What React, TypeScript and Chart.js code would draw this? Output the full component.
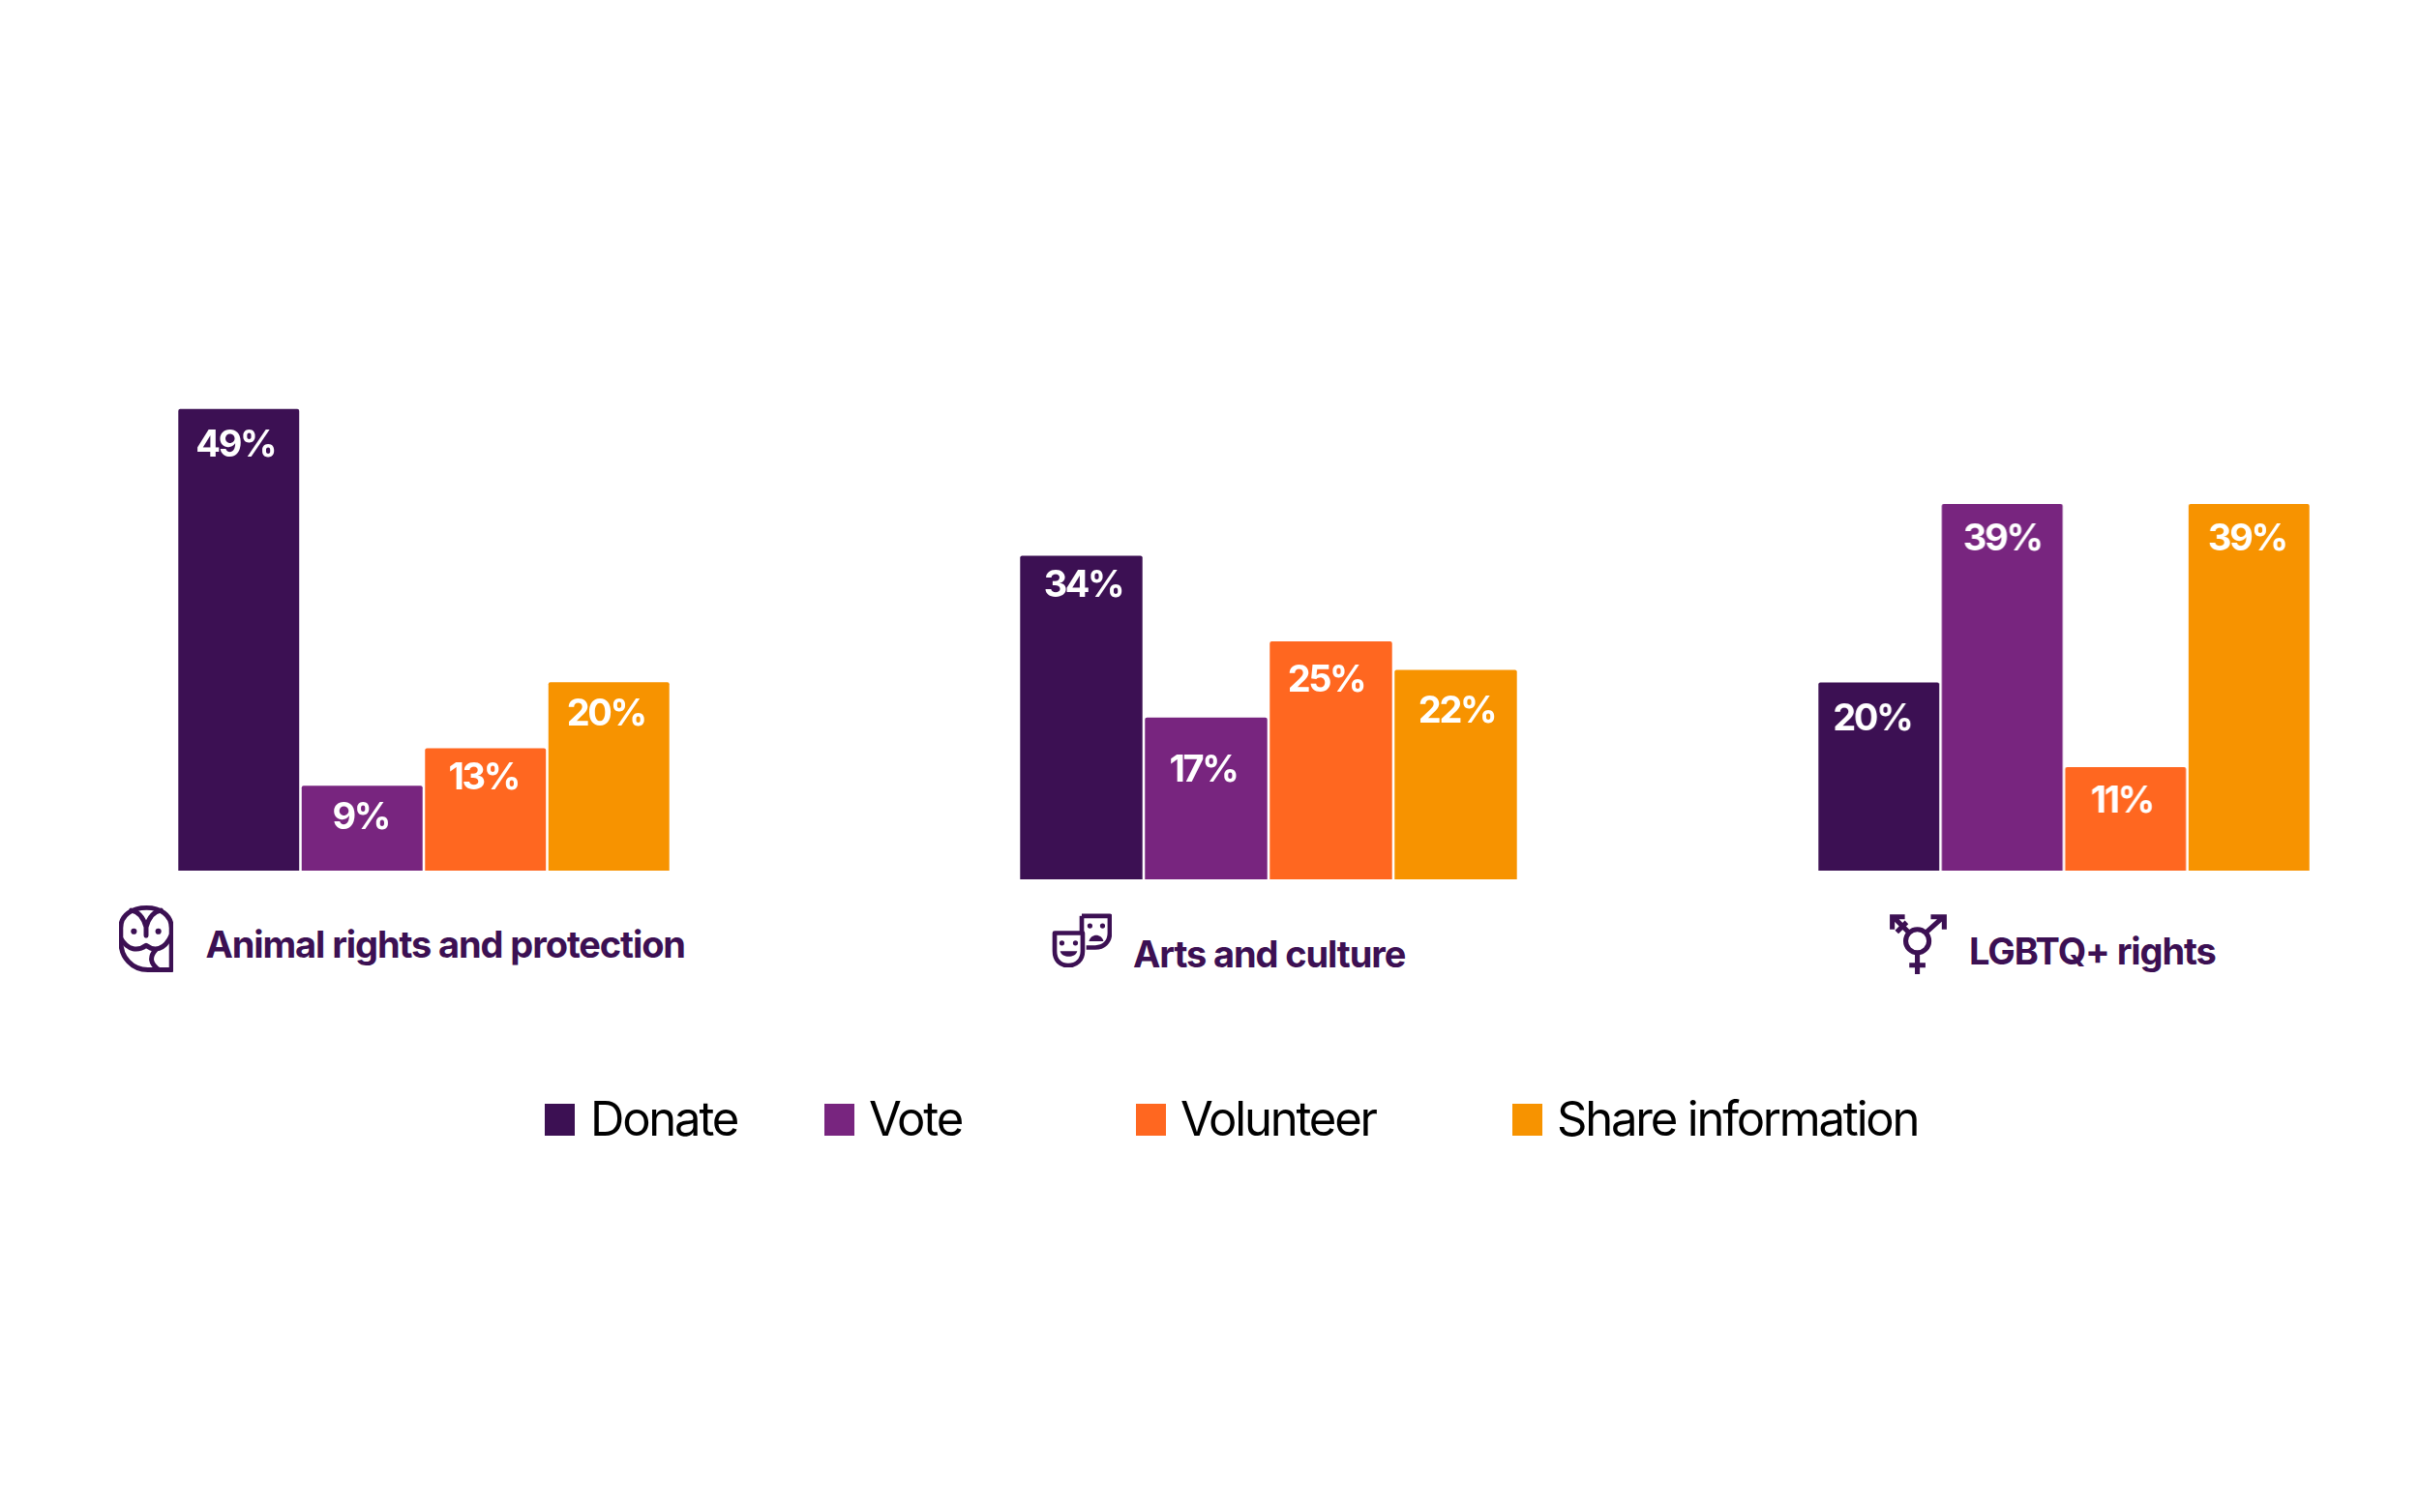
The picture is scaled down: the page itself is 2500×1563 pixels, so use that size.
import React, { useEffect, useRef } from "react";
import { Chart, registerables } from "chart.js";

Chart.register(...registerables);

const seriesNames = ["Donate", "Vote", "Volunteer", "Share information"];
const seriesColors = ["#3C1053", "#78257F", "#FF6720", "#F79300"];

const animalRights = [49, 9, 13, 20];
const artsCulture = [34, 17, 25, 22];
const lgbtqRights = [20, 39, 11, 39];

const FONT = "Inter, 'Noto Sans', sans-serif";

const panels = [
  { title: "Animal rights and protection", values: animalRights, left: 182.5, width: 510.5, bottom: 899.5, perPct: 9.74, dx: [-3.5, -1.5, -2, -3], dy: [38, 33, 31, 33], titleX: 212.5, titleY: 976 },
  { title: "Arts and culture", values: artsCulture, left: 1053, width: 516, bottom: 908.5, perPct: 9.84, dx: [2, -3, -5, 1], dy: [31, 55, 41, 43], titleX: 1171, titleY: 985.5 },
  { title: "LGBTQ+ rights", values: lgbtqRights, left: 1878, width: 509.5, bottom: 899.5, perPct: 9.72, dx: [-7, 0, -4, -2], dy: [38, 37, 35, 37], titleX: 2035, titleY: 982.5 },
];

const legendItems = [
  { x: 563, tx: 610 },
  { x: 852, tx: 898 },
  { x: 1174, tx: 1220 },
  { x: 1563, tx: 1609 },
];

const barLabels = (dx: number[], dy: number[]) => ({
  id: "barLabels",
  afterDatasetsDraw(chart: any) {
    const ctx = chart.ctx;
    const meta = chart.getDatasetMeta(0);
    ctx.save();
    ctx.fillStyle = "#ffffff";
    ctx.font = `700 38px ${FONT}`;
    ctx.letterSpacing = "-2.4px";
    ctx.textAlign = "center";
    ctx.textBaseline = "middle";
    meta.data.forEach((el: any, i: number) => {
      ctx.fillText(`${chart.data.datasets[0].data[i]}%`, el.x + dx[i], el.y + dy[i]);
    });
    ctx.restore();
  },
});

function Panel({ p }: { p: (typeof panels)[number] }) {
  const ref = useRef<HTMLCanvasElement>(null);
  const height = p.perPct * 50;
  useEffect(() => {
    const chart = new Chart(ref.current!, {
      type: "bar",
      data: {
        labels: seriesNames,
        datasets: [
          {
            data: p.values,
            backgroundColor: seriesColors,
            categoryPercentage: 1,
            barPercentage: 0.98,
            borderRadius: { topLeft: 2, topRight: 2, bottomLeft: 0, bottomRight: 0 },
            borderSkipped: false,
          },
        ],
      },
      options: {
        animation: false,
        responsive: false,
        devicePixelRatio: 1,
        layout: { padding: 0 },
        plugins: { legend: { display: false }, tooltip: { enabled: false }, title: { display: false } },
        scales: {
          x: { display: false },
          y: { display: false, min: 0, max: 50 },
        },
      },
      plugins: [barLabels(p.dx, p.dy)],
    });
    return () => chart.destroy();
  }, []);
  return (
    <canvas
      ref={ref}
      width={p.width}
      height={height}
      style={{ position: "absolute", left: p.left, top: p.bottom - height, width: p.width, height }}
    />
  );
}

const iconStroke = { fill: "none", stroke: "#3C1053", strokeWidth: 5.5, strokeLinejoin: "round" as const, strokeLinecap: "round" as const };

function OwlIcon() {
  return (
    <svg width="56" height="70" viewBox="0 0 62 76" style={{ position: "absolute", left: 122.5, top: 935 }}>
      <g {...iconStroke}>
        <path d="M60 74 L60 26 C60 11 47 3 31.5 3 C15 3 2 11 2 26 L2 41 C2 60 15 74 33 74 Z" />
        <path d="M2 38 C10 52 22 53 31 46 C40 53 52 52 60 34" />
        <path d="M31 35 L31 25 C28 15 22 7 14 6 M31 25 C34 15 40 7 48 6" />
        <path d="M42 51 C35 59 35 67 46 74" />
      </g>
      <circle cx="17" cy="30" r="3.4" fill="#3C1053" />
      <circle cx="45" cy="30" r="3.4" fill="#3C1053" />
    </svg>
  );
}

function MasksIcon() {
  return (
    <svg width="62" height="56" viewBox="0 0 66 60" style={{ position: "absolute", left: 1087, top: 944 }}>
      <g {...iconStroke} strokeLinecap="butt" strokeWidth={5}>
        <path d="M3 22 L34 22 L34 42 C34 52 27 58 18 58 C9 58 3 52 3 42 Z" />
        <path d="M33 3 L64 3 L64 22 C64 32 57 38 48 38 L38 38" />
        <path d="M33 3 L33 21" />
      </g>
      <path d="M9 42 L28 42 C26 50 11 50 9 42 Z" fill="#3C1053" />
      <path d="M41 31 C43 22 55 22 57 31 Z" fill="#3C1053" />
      <circle cx="11" cy="33" r="2.8" fill="#3C1053" />
      <circle cx="26" cy="33" r="2.8" fill="#3C1053" />
      <circle cx="42" cy="14" r="2.8" fill="#3C1053" />
      <circle cx="56" cy="14" r="2.8" fill="#3C1053" />
    </svg>
  );
}

function TransIcon() {
  return (
    <svg width="61" height="63" viewBox="0 0 64 68" style={{ position: "absolute", left: 1952, top: 945 }}>
      <g fill="none" stroke="#3C1053" strokeWidth="5.5">
        <circle cx="31" cy="30" r="13" />
        <path d="M31 43 L31 67 M22 57 L40 57" />
        <path d="M41 20 L60 3 M46 3 L61 3 L61 17" />
        <path d="M21 20 L4 3 M3 17 L3 3 L17 3 M8 20 L19 9" />
      </g>
    </svg>
  );
}

export default function App() {
  return (
    <div style={{ position: "absolute", left: 0, top: 0, width: 2500, height: 1563, background: "#fff", overflow: "hidden", fontFamily: FONT }}>
      {panels.map((p) => (
        <Panel key={p.title} p={p} />
      ))}
      {panels.map((p) => (
        <div
          key={p.title}
          style={{ position: "absolute", left: p.titleX, top: p.titleY - 30, lineHeight: "60px", height: 60, whiteSpace: "nowrap", fontWeight: 700, fontSize: 38, letterSpacing: -1.1, color: "#3C1053" }}
        >
          {p.title}
        </div>
      ))}
      <OwlIcon />
      <MasksIcon />
      <TransIcon />
      {seriesNames.map((name, i) => (
        <React.Fragment key={name}>
          <div style={{ position: "absolute", left: legendItems[i].x, top: 1141, width: 31, height: 33, background: seriesColors[i] }} />
          <div style={{ position: "absolute", left: legendItems[i].tx, top: 1126.5, lineHeight: "60px", whiteSpace: "nowrap", fontSize: 49, letterSpacing: -2.2, color: "#000" }}>
            {name}
          </div>
        </React.Fragment>
      ))}
    </div>
  );
}
